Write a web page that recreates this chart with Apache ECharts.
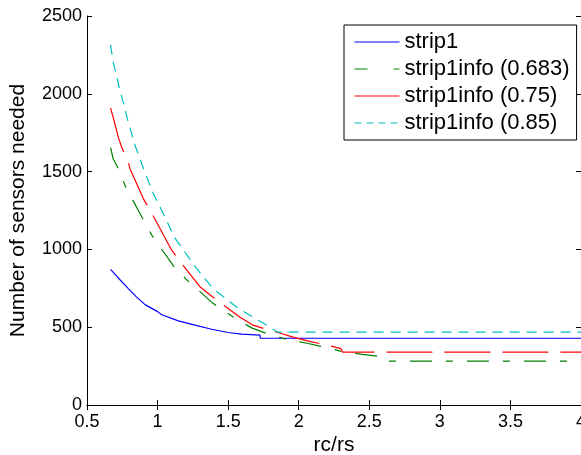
<!DOCTYPE html>
<html>
<head>
<meta charset="utf-8">
<script src="https://cdn.jsdelivr.net/npm/echarts@6/dist/echarts.min.js"></script>
<style>
  html, body { margin: 0; padding: 0; background: #fff; }
  #chart { width: 581px; height: 455px; }
</style>
</head>
<body>
<div id="chart"></div>
<script>
// ---- data ----
const xTicks = [0.5, 1, 1.5, 2, 2.5, 3, 3.5, 4];
const yTicks = [0, 500, 1000, 1500, 2000, 2500];

const seriesNames = ['strip1', 'strip1info (0.683)', 'strip1info (0.75)', 'strip1info (0.85)'];

const strip1X = [0.667, 0.72, 0.793, 0.85, 0.911, 1.0, 1.03, 1.147, 1.265, 1.383, 1.5, 1.596, 1.725, 1.728, 4.0];
const strip1Y = [872, 818, 748, 695, 645, 600, 580, 541, 513, 487, 466, 455, 449, 429, 429];

const info683X = [0.667, 0.686, 0.717, 0.77, 0.89, 0.96, 1.11, 1.2, 1.29, 1.39, 1.56, 1.67, 1.8, 1.93, 2.06, 2.2, 2.3, 2.45, 2.61, 2.63, 4.0];
const info683Y = [1654, 1581, 1528, 1410, 1205, 1090, 897, 810, 737, 655, 551, 494, 450, 418, 397, 368, 345, 325, 308, 282, 282];

const info75X = [0.667, 0.698, 0.722, 0.746, 0.793, 0.805, 0.9, 0.96, 1.1, 1.17, 1.3, 1.4, 1.5, 1.584, 1.677, 1.8, 1.87, 1.96, 2.07, 2.2, 2.3, 2.31, 4.0];
const info75Y = [1908, 1806, 1720, 1656, 1560, 1517, 1325, 1230, 995, 910, 760, 688, 620, 564, 513, 478, 461, 436, 410, 385, 362, 340, 340];

const info85X = [0.667, 0.686, 0.71, 0.734, 0.764, 0.786, 0.817, 0.845, 0.888, 0.96, 1.04, 1.12, 1.27, 1.39, 1.57, 1.75, 1.85, 4.0];
const info85Y = [2314, 2200, 2115, 2019, 1923, 1838, 1742, 1656, 1549, 1378, 1231, 1077, 885, 750, 622, 525, 468, 468];

function pairs(xs, ys) { return xs.map((x, i) => [x, ys[i]]); }

const FONT = 'Liberation Sans, Arial, sans-serif';
const chart = echarts.init(document.getElementById('chart'), null, { renderer: 'canvas' });

const tickStyle = { show: true, inside: true, length: 5, lineStyle: { color: '#000', width: 1 } };
const lineStyleAxis = { show: true, lineStyle: { color: '#000', width: 1 } };

const option = {
  animation: false,
  backgroundColor: '#fff',
  grid: { left: 87, right: 0, top: 16, bottom: 50, containLabel: false, outerBoundsMode: 'none' },
  xAxis: [
    {
      type: 'value', position: 'bottom', min: 0.5, max: 4, interval: 0.5,
      axisLine: lineStyleAxis, axisTick: tickStyle, splitLine: { show: false },
      axisLabel: { color: '#000', fontSize: 18, fontFamily: FONT, margin: 8,
        showMinLabel: true, showMaxLabel: true,
        formatter: v => String(v) },
      name: 'rc/rs', nameLocation: 'middle', nameGap: 30, nameMoveOverlap: false,
      nameTextStyle: { color: '#000', fontSize: 21, fontFamily: FONT }
    },
    {
      type: 'value', position: 'top', min: 0.5, max: 4, interval: 0.5,
      axisLine: lineStyleAxis, axisTick: tickStyle, splitLine: { show: false },
      axisLabel: { show: false }
    }
  ],
  yAxis: [
    {
      type: 'value', position: 'left', min: 0, max: 2500, interval: 500,
      axisLine: lineStyleAxis, axisTick: tickStyle, splitLine: { show: false },
      axisLabel: { color: '#000', fontSize: 18, fontFamily: FONT, margin: 5,
        formatter: v => String(v) },
      name: 'Number of sensors needed', nameLocation: 'middle', nameGap: 58, nameRotate: 90,
      nameMoveOverlap: false,
      nameTextStyle: { color: '#000', fontSize: 21, fontFamily: FONT }
    },
    {
      type: 'value', position: 'right', min: 0, max: 2500, interval: 500,
      axisLine: lineStyleAxis, axisTick: tickStyle, splitLine: { show: false },
      axisLabel: { show: false }
    }
  ],
  legend: {
    orient: 'vertical', left: 344, top: 25,
    backgroundColor: '#fff', borderColor: '#000', borderWidth: 1, borderRadius: 0,
    padding: [6, 7, 6, 10], itemGap: 5, itemWidth: 45, itemHeight: 14,
    itemStyle: { opacity: 0 },
    textStyle: { color: '#000', fontSize: 22, fontFamily: FONT },
    data: [
      { name: seriesNames[0], itemStyle: { opacity: 0 }, lineStyle: { type: 'solid', width: 1 } },
      { name: seriesNames[1], itemStyle: { opacity: 0 }, lineStyle: { type: [13, 26, 6], width: 1 } },
      { name: seriesNames[2], itemStyle: { opacity: 0 }, lineStyle: { type: 'solid', width: 1 } },
      { name: seriesNames[3], itemStyle: { opacity: 0 }, lineStyle: { type: [7, 5], width: 1 } }
    ]
  },
  series: [
    { name: seriesNames[0], type: 'line', data: pairs(strip1X, strip1Y), symbol: 'none',
      color: '#0000ff', lineStyle: { color: '#0000ff', width: 1.2, type: 'solid' } },
    { name: seriesNames[1], type: 'line', data: pairs(info683X, info683Y), symbol: 'none',
      color: '#008000', lineStyle: { color: '#008000', width: 1.2, type: [22, 14, 7, 14] } },
    { name: seriesNames[2], type: 'line', data: pairs(info75X, info75Y), symbol: 'none',
      color: '#ff0000', lineStyle: { color: '#ff0000', width: 1.2, type: [46, 12] } },
    { name: seriesNames[3], type: 'line', data: pairs(info85X, info85Y), symbol: 'none',
      color: '#00bfbf', lineStyle: { color: '#00bfbf', width: 1.2, type: [10, 7] } }
  ]
};
chart.setOption(option);
</script>
</body>
</html>
